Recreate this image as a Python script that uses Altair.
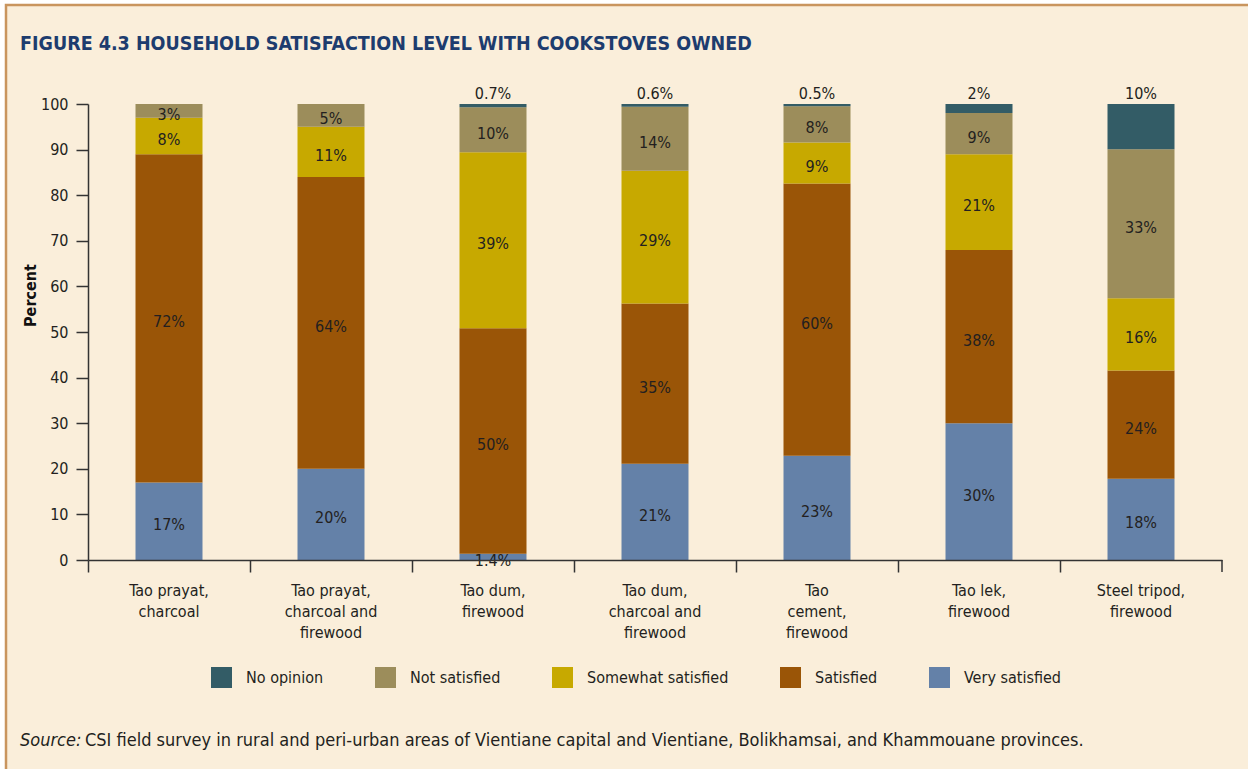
import altair as alt
import pandas as pd

categories = [
    "Tao prayat,\ncharcoal",
    "Tao prayat,\ncharcoal and\nfirewood",
    "Tao dum,\nfirewood",
    "Tao dum,\ncharcoal and\nfirewood",
    "Tao\ncement,\nfirewood",
    "Tao lek,\nfirewood",
    "Steel tripod,\nfirewood",
]
# stacking order, bottom to top
stack_levels = ["Very satisfied", "Satisfied", "Somewhat satisfied", "Not satisfied", "No opinion"]
very_satisfied = [17, 20, 1.4, 21, 23, 30, 18]
satisfied = [72, 64, 50, 35, 60, 38, 24]
somewhat_satisfied = [8, 11, 39, 29, 9, 21, 16]
not_satisfied = [3, 5, 10, 14, 8, 9, 33]
no_opinion = [0, 0, 0.7, 0.6, 0.5, 2, 10]

legend_order = ["No opinion", "Not satisfied", "Somewhat satisfied", "Satisfied", "Very satisfied"]
legend_colors = ["#335C66", "#9C8D5B", "#C7A900", "#9A5507", "#6481A8"]
y_ticks = [0, 10, 20, 30, 40, 50, 60, 70, 80, 90, 100]

title_text = "FIGURE 4.3 HOUSEHOLD SATISFACTION LEVEL WITH COOKSTOVES OWNED"
source_label = "Source:"
source_text = "CSI field survey in rural and peri-urban areas of Vientiane capital and Vientiane, Bolikhamsai, and Khammouane provinces."

series = [very_satisfied, satisfied, somewhat_satisfied, not_satisfied, no_opinion]
rows = []
for i, cat in enumerate(categories):
    vals = [s[i] for s in series]
    total = sum(vals)
    cum = 0.0
    for lvl, v in zip(stack_levels, vals):
        y0 = cum / total * 100
        cum += v
        y1 = cum / total * 100
        rows.append({
            "cat": cat, "level": lvl, "value": v,
            "y0": y0, "y1": y1, "mid": (y0 + y1) / 2,
            "label": (f"{v:g}%" if v > 0 else ""),
        })
df = pd.DataFrame(rows)

FONT = "Liberation Sans Narrow, Arial Narrow, DejaVu Sans Condensed, sans-serif"
TXT = "#231F20"
AX = "#333333"

W, H = 1134, 456
PL, PT = 88, 104

x_enc = alt.X(
    "cat:N", sort=categories,
    scale=alt.Scale(paddingInner=0, paddingOuter=0),
    axis=alt.Axis(
        title=None, bandPosition=0, labelAngle=0, zindex=2,
        labelExpr="split(datum.label, '\\n')",
        labelFont=FONT, labelFontSize=16, labelLineHeight=21, labelPadding=10,
        labelColor=TXT, tickSize=12, tickColor=AX, domainColor=AX,
        tickWidth=1.5, domainWidth=1.5,
    ),
)

bars = alt.Chart(df).mark_bar(size=67).encode(
    x=x_enc,
    y=alt.Y(
        "y0:Q",
        scale=alt.Scale(domain=[0, 100], nice=False),
        axis=alt.Axis(
            values=y_ticks, title="Percent", grid=False, zindex=2,
            titleFont=FONT, titleFontSize=16, titleFontWeight="bold", titleColor="#111111",
            titleX=-58, titleY=191, titleAngle=-90, titleAlign="center", titleBaseline="middle",
            labelFont=FONT, labelFontSize=16, labelColor=TXT, labelPadding=8,
            tickSize=12, tickColor=AX, domainColor=AX, tickWidth=1.5, domainWidth=1.5,
        ),
    ),
    y2="y1:Q",
    color=alt.Color(
        "level:N",
        scale=alt.Scale(domain=legend_order, range=legend_colors),
        legend=alt.Legend(
            orient="none", legendX=123, legendY=563, direction="horizontal", title=None,
            symbolType="square", symbolSize=441, symbolStrokeWidth=0, symbolOpacity=1,
            labelFont=FONT, labelFontSize=16, labelColor=TXT, labelOffset=14,
            columnPadding=51, padding=0, zindex=2,
        ),
    ),
)

inner_labels = alt.Chart(df).transform_filter(
    "datum.level != 'No opinion' && datum.value > 0"
).mark_text(dy=4, font=FONT, fontSize=16, color=TXT, baseline="middle").encode(
    x=alt.X("cat:N", sort=categories),
    y=alt.Y("mid:Q"),
    text="label:N",
)

top_labels = alt.Chart(df).transform_filter(
    "datum.level == 'No opinion' && datum.value > 0"
).mark_text(dy=-10, font=FONT, fontSize=16, color=TXT, baseline="middle").encode(
    x=alt.X("cat:N", sort=categories),
    y=alt.Y("y1:Q"),
    text="label:N",
)

one = pd.DataFrame({"k": [0]})

frame = alt.Chart(one).mark_rect(fill="#FAEEDA", stroke="#C9955E", strokeWidth=2.5).encode(
    x=alt.value(6 - PL), x2=alt.value(1260 - PL), y=alt.value(5 - PT), y2=alt.value(780 - PT)
)

end_tick = alt.Chart(one).mark_rule(color=AX, strokeWidth=1.5).encode(
    x=alt.value(W), y=alt.value(H), y2=alt.value(H + 12)
)

title = alt.Chart(pd.DataFrame({"t": [title_text]})).mark_text(
    font=FONT, fontSize=19.5, fontWeight="bold", color="#1D3C6E", align="left", baseline="alphabetic"
).encode(x=alt.value(20 - PL), y=alt.value(50 - PT), text="t:N")

src1 = alt.Chart(pd.DataFrame({"t": [source_label]})).mark_text(
    font=FONT, fontSize=18, fontStyle="italic", color=TXT, align="left", baseline="alphabetic"
).encode(x=alt.value(20 - PL), y=alt.value(746 - PT), text="t:N")

src2 = alt.Chart(pd.DataFrame({"t": [source_text]})).mark_text(
    font=FONT, fontSize=18, color=TXT, align="left", baseline="alphabetic"
).encode(x=alt.value(85 - PL), y=alt.value(746 - PT), text="t:N")

chart = alt.layer(
    frame, bars, inner_labels, top_labels, end_tick, title, src1, src2
).properties(
    width=W, height=H,
    background="white",
    padding={"left": PL, "top": PT, "right": 1248 - PL - W, "bottom": 769 - PT - H},
    autosize=alt.AutoSizeParams(type="none"),
).configure_view(stroke=None)

chart.save("out.html", embed_options={"renderer": "svg", "actions": False})
